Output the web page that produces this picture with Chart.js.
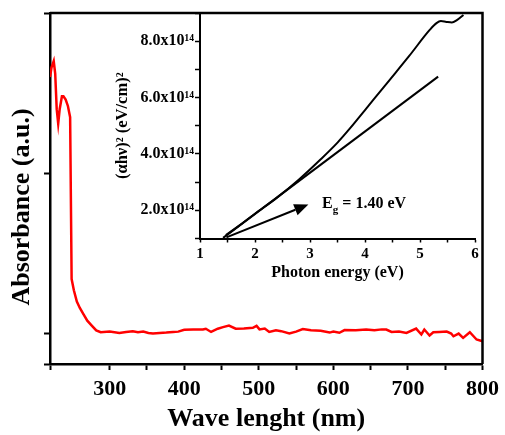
<!DOCTYPE html>
<html>
<head>
<meta charset="utf-8">
<script src="https://cdn.jsdelivr.net/npm/chart.js@4.4.1/dist/chart.umd.min.js"></script>
<style>
  html, body { margin: 0; padding: 0; background: #fff; }
  #wrap { position: relative; width: 505px; height: 435px; }
  #main { position: absolute; left: 0; top: 0; }
  #inset { position: absolute; left: 100px; top: 0; }
</style>
</head>
<body>
<div id="wrap">
  <canvas id="main" width="505" height="435"></canvas>
  <canvas id="inset" width="390" height="290"></canvas>
</div>
<script>
// main spectrum (wavelength nm -> absorbance, a.u.)
const waveNm = [220, 222, 225, 227, 229, 231, 233, 236, 238, 241, 244, 247, 249, 252, 256, 260, 265, 270, 276, 282, 288,
  300, 313, 322, 331, 338, 345, 352, 358, 367, 376, 385, 392, 400, 412, 425, 429, 436, 445, 452, 460, 469, 480, 492, 497,
  501, 508, 514, 523, 530, 541, 550, 559, 570, 583, 595, 600, 608, 615, 630, 644, 655, 665, 671, 678, 688, 698, 711, 718,
  722, 729, 734, 742, 752, 758, 761, 768, 774, 783, 792, 800];
const absorbance = [1.60, 1.66, 1.70, 1.62, 1.40, 1.31, 1.40, 1.48, 1.48, 1.46, 1.42, 1.35, 0.34, 0.27, 0.20, 0.16, 0.12, 0.08, 0.05, 0.02, 0.008,
  0.012, 0.004, 0.010, 0.014, 0.008, 0.012, 0.004, 0.000, 0.004, 0.006, 0.010, 0.012, 0.024, 0.026, 0.025, 0.030, 0.010, 0.030, 0.040, 0.050, 0.030, 0.032, 0.036, 0.048,
  0.026, 0.031, 0.010, 0.020, 0.015, 0.000, 0.012, 0.028, 0.020, 0.018, 0.006, 0.012, 0.005, 0.022, 0.020, 0.025, 0.020, 0.026, 0.025, 0.010, 0.012, 0.004, 0.031, -0.006,
  0.025, -0.012, 0.008, 0.010, 0.012, 0.000, -0.017, 0.000, -0.027, 0.008, -0.037, -0.048];

// inset Tauc plot
const energyEv = [1.47, 1.7, 2.0, 2.4, 2.8, 3.2, 3.5, 3.73, 4.0, 4.45, 4.8, 5.18, 5.3, 5.38, 5.48, 5.58, 5.67, 5.79];
const alphaHv2 = [0.84e14, 1.15e14, 1.58e14, 2.14e14, 2.77e14, 3.48e14, 4.05e14, 4.55e14, 5.18e14, 6.23e14, 7.05e14, 7.97e14,
  8.2e14, 8.27e14, 8.24e14, 8.22e14, 8.3e14, 8.48e14];
const tangentEv = [1.42, 5.33];
const tangentVal = [0.74e14, 6.34e14];
const arrowEv = [1.48, 2.97];
const arrowVal = [0.76e14, 1.9e14];
const gapLabelAt = [3.22, 1.79e14];

const serif = "'Liberation Serif', 'Times New Roman', serif";
Chart.defaults.font.family = serif;
Chart.defaults.color = '#000';

// top + right sides of the main frame
const framePlugin = {
  id: 'frame',
  afterDraw(chart, args, opts) {
    const { ctx, chartArea: a } = chart;
    ctx.save();
    ctx.strokeStyle = '#000';
    ctx.lineWidth = opts.width;
    ctx.beginPath();
    ctx.moveTo(a.left, a.top);
    ctx.lineTo(a.right, a.top);
    ctx.lineTo(a.right, a.bottom);
    ctx.stroke();
    ctx.restore();
  }
};

// rotated y title, sits a bit lower than the axis centre
const sideTitle = {
  id: 'sideTitle',
  afterDraw(chart, args, opts) {
    const ctx = chart.ctx;
    ctx.save();
    ctx.translate(opts.x, opts.y);
    ctx.rotate(-Math.PI / 2);
    ctx.font = 'bold 26px ' + serif;
    ctx.fillStyle = '#000';
    ctx.textAlign = 'center';
    ctx.textBaseline = 'middle';
    ctx.fillText(opts.text, 0, 0);
    ctx.restore();
  }
};

new Chart(document.getElementById('main'), {
  type: 'line',
  data: {
    datasets: [{
      data: waveNm.map((w, i) => ({ x: w, y: absorbance[i] })),
      borderColor: '#ff0000',
      borderWidth: 2.5,
      pointRadius: 0,
      tension: 0
    }]
  },
  options: {
    responsive: false,
    animation: false,
    layout: { padding: { top: 13, right: 22, left: 0, bottom: 0 } },
    plugins: {
      legend: { display: false },
      tooltip: { enabled: false },
      frame: { width: 2.5 },
      sideTitle: { text: 'Absorbance (a.u.)', x: 22, y: 207 }
    },
    scales: {
      x: {
        type: 'linear', min: 220, max: 800,
        ticks: {
          stepSize: 50, autoSkip: false, maxRotation: 0, padding: 6,
          font: { size: 22, weight: 'bold' },
          callback: v => (v % 100 === 0 ? v : '')
        },
        grid: { drawOnChartArea: false, tickLength: 6, tickWidth: 2, tickColor: '#000' },
        border: { color: '#000', width: 2.5 },
        title: { display: true, text: 'Wave lenght (nm)', font: { size: 26, weight: 'bold' }, padding: 0 },
        afterFit(s) { s.height = 71; }
      },
      y: {
        min: -0.19, max: 2,
        ticks: { stepSize: 1, padding: 0, callback: () => '' },
        grid: { drawOnChartArea: false, tickLength: 6, tickWidth: 2, tickColor: '#000' },
        border: { color: '#000', width: 2.5 },
        afterFit(s) { s.width = 50; }
      }
    }
  },
  plugins: [framePlugin, sideTitle]
});

// arrow and E_g text in the inset
const insetNotes = {
  id: 'insetNotes',
  afterDatasetsDraw(chart) {
    const { ctx, scales: { x, y } } = chart;
    const x0 = x.getPixelForValue(arrowEv[0]), y0 = y.getPixelForValue(arrowVal[0]);
    const x1 = x.getPixelForValue(arrowEv[1]), y1 = y.getPixelForValue(arrowVal[1]);
    const ang = Math.atan2(y1 - y0, x1 - x0);
    const head = 14, half = 6;
    ctx.save();
    ctx.strokeStyle = '#000';
    ctx.fillStyle = '#000';
    ctx.lineWidth = 2;
    ctx.beginPath();
    ctx.moveTo(x0, y0);
    ctx.lineTo(x1 - head * Math.cos(ang), y1 - head * Math.sin(ang));
    ctx.stroke();
    ctx.beginPath();
    ctx.moveTo(x1, y1);
    ctx.lineTo(x1 - head * Math.cos(ang) + half * Math.sin(ang), y1 - head * Math.sin(ang) - half * Math.cos(ang));
    ctx.lineTo(x1 - head * Math.cos(ang) - half * Math.sin(ang), y1 - head * Math.sin(ang) + half * Math.cos(ang));
    ctx.closePath();
    ctx.fill();

    let tx = x.getPixelForValue(gapLabelAt[0]);
    const ty = y.getPixelForValue(gapLabelAt[1]);
    ctx.textBaseline = 'alphabetic';
    ctx.textAlign = 'left';
    ctx.font = 'bold 16px ' + serif;
    ctx.fillText('E', tx, ty);
    tx += ctx.measureText('E').width;
    ctx.font = 'bold 11px ' + serif;
    ctx.fillText('g', tx, ty + 5);
    tx += ctx.measureText('g').width;
    ctx.font = 'bold 16px ' + serif;
    ctx.fillText(' = 1.40 eV', tx, ty);
    ctx.restore();
  }
};

new Chart(document.getElementById('inset'), {
  type: 'line',
  data: {
    datasets: [{
      data: energyEv.map((e, i) => ({ x: e, y: alphaHv2[i] })),
      borderColor: '#000',
      borderWidth: 2,
      pointRadius: 0,
      cubicInterpolationMode: 'monotone'
    }, {
      data: tangentEv.map((e, i) => ({ x: e, y: tangentVal[i] })),
      borderColor: '#000',
      borderWidth: 2,
      pointRadius: 0
    }]
  },
  options: {
    responsive: false,
    animation: false,
    layout: { padding: { top: 13, right: 15, left: 0, bottom: 0 } },
    plugins: { legend: { display: false }, tooltip: { enabled: false } },
    scales: {
      x: {
        type: 'linear', min: 1, max: 6,
        ticks: {
          stepSize: 0.5, autoSkip: false, maxRotation: 0, padding: 3,
          font: { size: 15, weight: 'bold' },
          callback: v => (Number.isInteger(v) ? v : '')
        },
        grid: { drawOnChartArea: false, tickLength: 4, tickWidth: 1.5, tickColor: '#000' },
        border: { color: '#000', width: 2 },
        title: { display: true, text: 'Photon energy (eV)', font: { size: 16, weight: 'bold' }, padding: { top: 0, bottom: 8 } },
        afterFit(s) { s.height = 51.5; }
      },
      y: {
        min: 0.72e14, max: 8.55e14,
        ticks: {
          stepSize: 1e14, includeBounds: false, autoSkip: false, padding: 1,
          font: { size: 16, weight: 'bold' },
          callback: v => {
            const n = Math.round(v / 1e14);
            return n % 2 === 0 ? n.toFixed(1) + 'x10¹⁴' : '';
          }
        },
        grid: { drawOnChartArea: false, tickLength: 5, tickWidth: 1.5, tickColor: '#000' },
        border: { color: '#000', width: 2 },
        title: { display: true, text: '(αhν)² (eV/cm)²', font: { size: 16.5, weight: 'bold' }, padding: { top: 13, bottom: 0 } },
        afterFit(s) { s.width = 100; }
      }
    }
  },
  plugins: [insetNotes]
});
</script>
</body>
</html>
